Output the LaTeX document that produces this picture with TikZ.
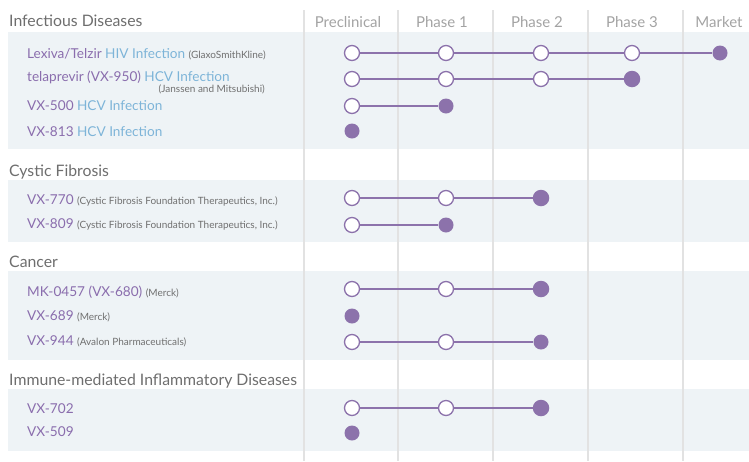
\documentclass[tikz,border=0pt]{standalone}
\usepackage{fontspec}
\setmainfont{Lato}
\definecolor{bandc}{HTML}{EEF3F6}
\definecolor{gridc}{HTML}{E2E2E2}
\definecolor{purp}{HTML}{8C72AB}
\definecolor{purpt}{HTML}{8A6DAD}
\definecolor{bluet}{HTML}{7DB4D8}
\definecolor{sectc}{HTML}{6E6E6E}
\definecolor{colc}{HTML}{A3A3A3}
\definecolor{coc}{HTML}{707070}
\newcommand{\dn}[1]{\textcolor{purpt}{#1}}
\newcommand{\ind}[1]{\textcolor{bluet}{#1}}
\newcommand{\co}[1]{{\fontsize{10}{10}\selectfont\textcolor{coc}{#1}}}
\begin{document}
\begin{tikzpicture}[x=1pt,y=-1pt,
  band/.style={fill=bandc,draw=none},
  gridline/.style={draw=gridc,line width=2pt},
  sect/.style={anchor=base west,inner sep=0,text=sectc,font=\fontsize{15.8}{16}\selectfont},
  colhead/.style={anchor=base,inner sep=0,text=colc,font=\fontsize{15}{15}\selectfont},
  drug/.style={anchor=base west,inner sep=0,font=\fontsize{13.6}{14}\selectfont},
  opendot/.style={circle,draw=purp,line width=1.3pt,fill=white,minimum size=15pt,inner sep=0},
  fulldot/.style={circle,fill=purp,draw=none,minimum size=15pt,inner sep=0},
  bigdot/.style={circle,fill=purp,draw=none,minimum size=16.5pt,inner sep=0},
  conn/.style={draw=purp,line width=1.8pt}]
\useasboundingbox (0,0) rectangle (749,461);
% bands
\fill[band] (8,32) rectangle (749,149);
\fill[band] (8,180) rectangle (749,242);
\fill[band] (8,271) rectangle (749,360);
\fill[band] (8,389) rectangle (749,451);
% grid lines
\foreach \gx in {304,398,493,588,683} \draw[gridline] (\gx,10) -- (\gx,461);
% column headers
\node[colhead] (hpre) at (348,27.3) {Preclinical};
\node[colhead] (hp1) at (442,27.3) {Phase 1};
\node[colhead] (hp2) at (537,27.3) {Phase 2};
\node[colhead] (hp3) at (632,27.3) {Phase 3};
\node[colhead] (hmk) at (719,27.3) {Market};
% section headers
\node[sect] (s1) at (9,26.7) {Infectious Diseases};
\node[sect] (s2) at (9,176) {Cystic Fibrosis};
\node[sect] (s3) at (9,267.3) {Cancer};
\node[sect] (s4) at (9,385) {Immune-mediated Inflammatory Diseases};
% drug labels
\node[drug] (t1) at (27,58.3) {\dn{Lexiva/Telzir} \ind{HIV Infection} \co{(GlaxoSmithKline)}};
\node[drug] (t2) at (27,81.7) {\dn{telaprevir (VX-950)} \ind{HCV Infection}};
\node[anchor=base east,inner sep=0] (t2b) at (265,92.7) {\co{(Janssen and Mitsubishi)}};
\node[drug] (t3) at (27,110) {\dn{VX-500} \ind{HCV Infection}};
\node[drug] (t4) at (27,136) {\dn{VX-813} \ind{HCV Infection}};
\node[drug] (t5) at (27,204.3) {\dn{VX-770} \co{(Cystic Fibrosis Foundation Therapeutics, Inc.)}};
\node[drug] (t6) at (27,228.3) {\dn{VX-809} \co{(Cystic Fibrosis Foundation Therapeutics, Inc.)}};
\node[drug] (t7) at (27,296) {\dn{MK-0457 (VX-680)} \co{(Merck)}};
\node[drug] (t8) at (27,320.7) {\dn{VX-689} \co{(Merck)}};
\node[drug] (t9) at (27,345.7) {\dn{VX-944} \co{(Avalon Pharmaceuticals)}};
\node[drug] (t10) at (27,413.3) {\dn{VX-702}};
\node[drug] (t11) at (27,436) {\dn{VX-509}};
% row 1 Lexiva
\node[opendot] (a1) at (352,53) {};
\node[opendot] (a2) at (446,53) {};
\node[opendot] (a3) at (541,53) {};
\node[opendot] (a4) at (632,53) {};
\node[fulldot] (a5) at (720,53) {};
\draw[conn] (a1) -- (a2); \draw[conn] (a2) -- (a3); \draw[conn] (a3) -- (a4); \draw[conn] (a4) -- (a5);
% row 2 telaprevir
\node[opendot] (b1) at (352,79) {};
\node[opendot] (b2) at (446,79) {};
\node[opendot] (b3) at (541,79) {};
\node[bigdot] (b4) at (632,79) {};
\draw[conn] (b1) -- (b2); \draw[conn] (b2) -- (b3); \draw[conn] (b3) -- (b4);
% row 3 VX-500
\node[opendot] (c1) at (352,106) {};
\node[fulldot] (c2) at (446,106) {};
\draw[conn] (c1) -- (c2);
% row 4 VX-813
\node[fulldot] (d1) at (352,131) {};
% VX-770
\node[opendot] (e1) at (352,198) {};
\node[opendot] (e2) at (446,198) {};
\node[bigdot] (e3) at (541,198) {};
\draw[conn] (e1) -- (e2); \draw[conn] (e2) -- (e3);
% VX-809
\node[opendot] (f1) at (352,225) {};
\node[fulldot] (f2) at (446,225) {};
\draw[conn] (f1) -- (f2);
% MK-0457
\node[opendot] (g1) at (352,289) {};
\node[opendot] (g2) at (446,289) {};
\node[bigdot] (g3) at (541,289) {};
\draw[conn] (g1) -- (g2); \draw[conn] (g2) -- (g3);
% VX-689
\node[fulldot] (h1) at (352,316) {};
% VX-944
\node[opendot] (i1) at (352,342) {};
\node[opendot] (i2) at (446,342) {};
\node[fulldot] (i3) at (541,342) {};
\draw[conn] (i1) -- (i2); \draw[conn] (i2) -- (i3);
% VX-702
\node[opendot] (j1) at (352,408) {};
\node[opendot] (j2) at (446,408) {};
\node[bigdot] (j3) at (541,408) {};
\draw[conn] (j1) -- (j2); \draw[conn] (j2) -- (j3);
% VX-509
\node[fulldot] (k1) at (352,433) {};
\end{tikzpicture}
\end{document}
